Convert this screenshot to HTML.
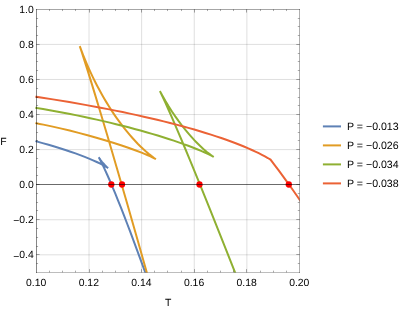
<!DOCTYPE html><html><head><meta charset="utf-8"><title>plot</title><style>
html,body{margin:0;padding:0;background:#fff}
body{width:407px;height:312px;position:relative;overflow:hidden;font-family:"Liberation Sans",sans-serif;color:#000}
svg{will-change:transform}
</style></head><body>
<svg width="407" height="312" viewBox="0 0 407 312" style="position:absolute;left:0;top:0">
<rect width="407" height="312" fill="#fff"/>
<g stroke="#000" stroke-opacity="0.25" stroke-width="0.5" fill="none">
<path d="M89.02 9.0 V273.0"/>
<path d="M141.64 9.0 V273.0"/>
<path d="M194.26 9.0 V273.0"/>
<path d="M246.88 9.0 V273.0"/>
<path d="M36.0 44.42 H300.0"/>
<path d="M36.0 79.48 H300.0"/>
<path d="M36.0 114.55 H300.0"/>
<path d="M36.0 149.62 H300.0"/>
<path d="M36.0 219.75 H300.0"/>
<path d="M36.0 254.82 H300.0"/>
</g>
<clipPath id="c"><rect x="34.4" y="9.35" width="265.20" height="263.15"/></clipPath>
<g clip-path="url(#c)" fill="none" stroke-width="2.0" stroke-linejoin="miter" stroke-miterlimit="10" stroke-linecap="square">
<path d="M36.40 141.40 L42.58 143.11 L48.59 144.82 L54.40 146.54 L59.98 148.26 L65.39 150.00 L70.52 151.71 L75.48 153.43 L80.16 155.14 L84.74 156.88 L89.02 158.59 L93.06 160.31 L96.81 161.99 L100.30 163.66 L103.41 165.27 L106.11 166.79 L107.25 167.50 L108.12 168.08 L107.03 167.16 L105.77 165.99 L104.50 164.68 L103.22 163.27 L101.97 161.77 L100.78 160.24 L99.65 158.68 L98.73 157.28 L100.35 160.25 L102.39 164.32 L104.64 169.06 L107.10 174.47 L109.66 180.27 L112.33 186.52 L115.12 193.21 L118.09 200.52 L120.96 207.72 L123.87 215.16 L126.98 223.24 L130.29 231.95 L137.23 250.56 L147.64 278.87" stroke="#5E81B5"/>
<path d="M36.40 123.30 L39.61 123.90 L43.35 124.64 L51.64 126.39 L60.46 128.39 L69.62 130.59 L78.65 132.88 L87.60 135.26 L96.40 137.71 L104.99 140.23 L113.16 142.73 L120.92 145.24 L128.31 147.75 L135.17 150.22 L141.57 152.67 L144.53 153.87 L147.27 155.02 L149.89 156.17 L152.24 157.26 L154.33 158.28 L155.91 159.12 L154.95 158.51 L153.79 157.72 L151.28 155.88 L148.64 153.78 L145.95 151.49 L143.23 149.04 L140.49 146.43 L137.74 143.68 L134.96 140.75 L132.25 137.78 L129.54 134.67 L126.84 131.44 L124.19 128.13 L121.54 124.71 L118.93 121.18 L116.35 117.57 L113.79 113.84 L111.33 110.12 L108.89 106.30 L106.49 102.39 L104.16 98.47 L101.88 94.48 L99.60 90.35 L97.38 86.17 L95.21 81.93 L93.06 77.57 L90.93 73.11 L88.89 68.63 L86.89 64.10 L84.91 59.43 L83.05 54.84 L81.25 50.22 L79.76 46.17 L81.81 52.29 L84.57 60.83 L87.76 70.92 L91.18 81.92 L94.85 93.90 L98.95 107.42 L107.56 136.30 L116.69 167.41 L126.79 202.29 L137.36 239.24 L148.56 278.77" stroke="#E19C24"/>
<path d="M36.40 107.90 L43.07 109.03 L49.79 110.20 L56.59 111.44 L63.39 112.72 L70.13 114.03 L76.87 115.38 L83.59 116.78 L90.23 118.20 L96.76 119.64 L103.29 121.13 L109.78 122.65 L116.08 124.18 L122.30 125.73 L128.54 127.33 L134.51 128.91 L140.46 130.53 L146.36 132.19 L152.05 133.84 L157.75 135.54 L163.20 137.23 L168.58 138.95 L173.76 140.66 L178.70 142.35 L183.56 144.07 L188.25 145.80 L192.79 147.54 L197.08 149.26 L201.09 150.94 L204.88 152.60 L208.32 154.21 L211.37 155.72 L213.70 156.99 L212.32 156.08 L210.68 154.91 L208.97 153.61 L207.19 152.20 L205.40 150.70 L203.60 149.13 L201.77 147.48 L199.95 145.77 L198.15 144.02 L196.36 142.22 L194.55 140.33 L192.76 138.42 L190.97 136.44 L189.19 134.41 L185.62 130.16 L182.13 125.75 L178.67 121.14 L175.27 116.37 L171.94 111.44 L168.63 106.27 L165.46 101.04 L162.45 95.78 L161.07 93.25 L159.94 91.10 L162.27 95.97 L165.34 102.64 L168.76 110.28 L172.44 118.65 L176.39 127.80 L180.57 137.63 L185.04 148.24 L189.66 159.37 L198.79 181.64 L209.30 207.67 L221.15 237.34 L237.55 278.74" stroke="#8FB032"/>
<path d="M36.40 96.80 L52.90 99.38 L69.23 102.07 L85.23 104.87 L100.55 107.71 L107.92 109.13 L115.33 110.61 L122.58 112.09 L129.82 113.62 L136.86 115.14 L143.70 116.67 L150.46 118.22 L157.13 119.80 L163.69 121.40 L170.10 123.01 L176.35 124.63 L182.43 126.26 L188.41 127.91 L194.27 129.58 L199.98 131.26 L205.52 132.94 L210.93 134.64 L216.19 136.35 L221.26 138.06 L226.24 139.80 L231.03 141.54 L235.69 143.29 L240.17 145.05 L244.49 146.80 L248.26 148.41 L251.89 150.01 L255.40 151.62 L258.73 153.22 L261.92 154.83 L264.94 156.42 L267.81 158.01 L270.50 159.59 L275.05 165.56 L278.69 170.41 L283.24 176.58 L287.79 182.85 L292.35 189.23 L296.90 195.72 L301.45 202.31 L306.00 209.02" stroke="#EB6235"/>
</g>
<circle cx="111.3" cy="184.5" r="3.15" fill="#f00"/>
<circle cx="122.0" cy="184.5" r="3.15" fill="#f00"/>
<circle cx="199.5" cy="184.5" r="3.15" fill="#f00"/>
<circle cx="288.8" cy="184.5" r="3.15" fill="#f00"/>
<path d="M36.0 184.5 H300.0" stroke="#000" stroke-opacity="0.58" stroke-width="1" fill="none"/>
<g stroke="#000" stroke-opacity="0.42" stroke-width="1" fill="none">
<path d="M36.0 9.5 H300.0" stroke-opacity="0.35"/><path d="M299.5 9.0 V273.0" stroke-opacity="0.31"/><path d="M300.0 272.5 H36.0" stroke-opacity="0.26"/><path d="M36.5 273.0 V9.0" stroke-opacity="0.47"/>
<path d="M49.5 272.35 v-1.7 M49.5 9.35 v1.7 M62.5 272.35 v-1.7 M62.5 9.35 v1.7 M75.5 272.35 v-1.7 M75.5 9.35 v1.7 M89.5 272.35 v-3.2 M89.5 9.35 v3.2 M102.5 272.35 v-1.7 M102.5 9.35 v1.7 M115.5 272.35 v-1.7 M115.5 9.35 v1.7 M128.5 272.35 v-1.7 M128.5 9.35 v1.7 M141.5 272.35 v-3.2 M141.5 9.35 v3.2 M154.5 272.35 v-1.7 M154.5 9.35 v1.7 M167.5 272.35 v-1.7 M167.5 9.35 v1.7 M181.5 272.35 v-1.7 M181.5 9.35 v1.7 M194.5 272.35 v-3.2 M194.5 9.35 v3.2 M207.5 272.35 v-1.7 M207.5 9.35 v1.7 M220.5 272.35 v-1.7 M220.5 9.35 v1.7 M233.5 272.35 v-1.7 M233.5 9.35 v1.7 M246.5 272.35 v-3.2 M246.5 9.35 v3.2 M260.5 272.35 v-1.7 M260.5 9.35 v1.7 M273.5 272.35 v-1.7 M273.5 9.35 v1.7 M286.5 272.35 v-1.7 M286.5 9.35 v1.7 M36.4 263.5 h1.7 M299.5 263.5 h-1.7 M36.4 254.5 h3.2 M299.5 254.5 h-3.2 M36.4 246.5 h1.7 M299.5 246.5 h-1.7 M36.4 237.5 h1.7 M299.5 237.5 h-1.7 M36.4 228.5 h1.7 M299.5 228.5 h-1.7 M36.4 219.5 h3.2 M299.5 219.5 h-3.2 M36.4 210.5 h1.7 M299.5 210.5 h-1.7 M36.4 202.5 h1.7 M299.5 202.5 h-1.7 M36.4 193.5 h1.7 M299.5 193.5 h-1.7 M36.4 184.5 h3.2 M299.5 184.5 h-3.2 M36.4 175.5 h1.7 M299.5 175.5 h-1.7 M36.4 167.5 h1.7 M299.5 167.5 h-1.7 M36.4 158.5 h1.7 M299.5 158.5 h-1.7 M36.4 149.5 h3.2 M299.5 149.5 h-3.2 M36.4 140.5 h1.7 M299.5 140.5 h-1.7 M36.4 132.5 h1.7 M299.5 132.5 h-1.7 M36.4 123.5 h1.7 M299.5 123.5 h-1.7 M36.4 114.5 h3.2 M299.5 114.5 h-3.2 M36.4 105.5 h1.7 M299.5 105.5 h-1.7 M36.4 97.5 h1.7 M299.5 97.5 h-1.7 M36.4 88.5 h1.7 M299.5 88.5 h-1.7 M36.4 79.5 h3.2 M299.5 79.5 h-3.2 M36.4 70.5 h1.7 M299.5 70.5 h-1.7 M36.4 61.5 h1.7 M299.5 61.5 h-1.7 M36.4 53.5 h1.7 M299.5 53.5 h-1.7 M36.4 44.5 h3.2 M299.5 44.5 h-3.2 M36.4 35.5 h1.7 M299.5 35.5 h-1.7 M36.4 26.5 h1.7 M299.5 26.5 h-1.7 M36.4 18.5 h1.7 M299.5 18.5 h-1.7" stroke-opacity="0.33"/>
</g>
<path d="M322.9 126.4 H341" stroke="#5E81B5" stroke-width="2"/>
<path d="M322.9 145.4 H341" stroke="#E19C24" stroke-width="2"/>
<path d="M322.9 164.4 H341" stroke="#8FB032" stroke-width="2"/>
<path d="M322.9 183.4 H341" stroke="#EB6235" stroke-width="2"/>
<g font-family="Liberation Sans, sans-serif" font-size="10.4" fill="#000" text-rendering="geometricPrecision">
<text x="33.8" y="12.95" text-anchor="end">1.0</text>
<text x="33.8" y="48.02" text-anchor="end">0.8</text>
<text x="33.8" y="83.08" text-anchor="end">0.6</text>
<text x="33.8" y="118.15" text-anchor="end">0.4</text>
<text x="33.8" y="153.22" text-anchor="end">0.2</text>
<text x="33.8" y="188.28" text-anchor="end">0.0</text>
<text x="33.8" y="223.35" text-anchor="end"><tspan dy="1.1">−</tspan><tspan dy="-1.1">0.2</tspan></text>
<text x="33.8" y="258.42" text-anchor="end"><tspan dy="1.1">−</tspan><tspan dy="-1.1">0.4</tspan></text>
<text x="36.20" y="285.5" text-anchor="middle">0.10</text>
<text x="88.82" y="285.5" text-anchor="middle">0.12</text>
<text x="141.44" y="285.5" text-anchor="middle">0.14</text>
<text x="194.06" y="285.5" text-anchor="middle">0.16</text>
<text x="246.68" y="285.5" text-anchor="middle">0.18</text>
<text x="299.30" y="285.5" text-anchor="middle">0.20</text>
<text x="0.3" y="144.7">F</text>
<text x="168.1" y="306.4" text-anchor="middle">T</text>
<text x="347" y="129.70" font-size="10.6">P = <tspan dy="0.5">−</tspan><tspan dy="-0.5">0.013</tspan></text>
<text x="347" y="148.70" font-size="10.6">P = <tspan dy="0.5">−</tspan><tspan dy="-0.5">0.026</tspan></text>
<text x="347" y="167.70" font-size="10.6">P = <tspan dy="0.5">−</tspan><tspan dy="-0.5">0.034</tspan></text>
<text x="347" y="186.70" font-size="10.6">P = <tspan dy="0.5">−</tspan><tspan dy="-0.5">0.038</tspan></text>
</g>
</svg>
</body></html>
